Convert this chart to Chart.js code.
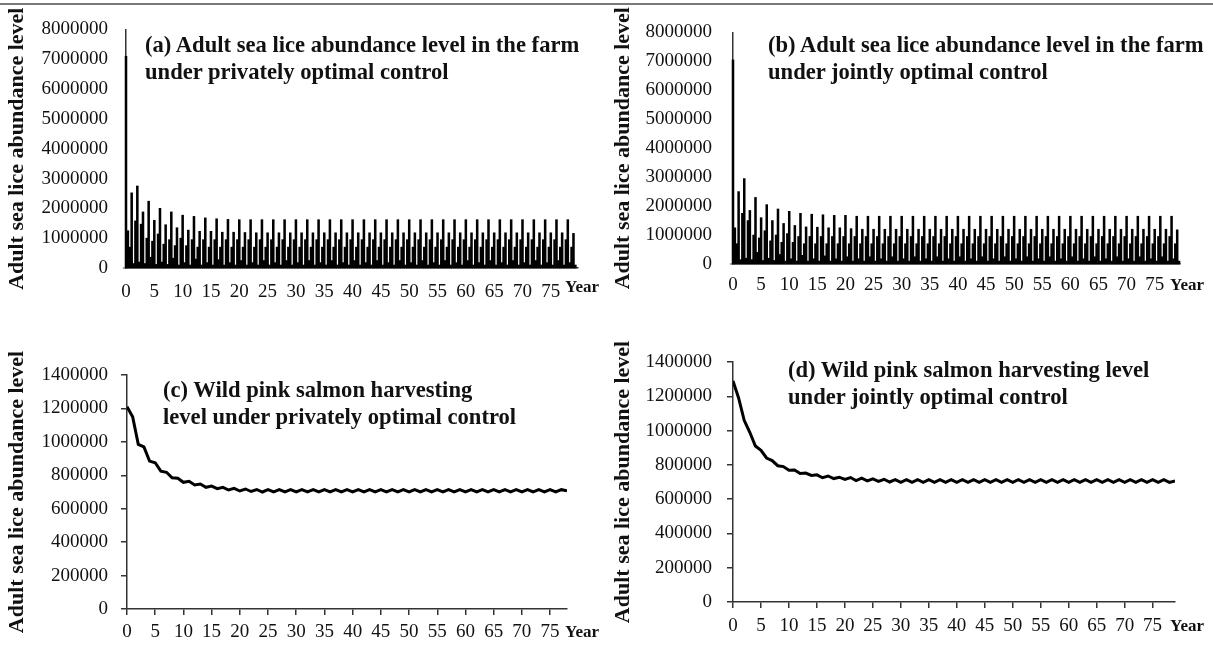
<!DOCTYPE html>
<html>
<head>
<meta charset="utf-8">
<script src="https://cdn.jsdelivr.net/npm/chart.js@4.4.0/dist/chart.umd.min.js"></script>
<style>
  body { margin: 0; background: #fff; width: 1213px; height: 648px; position: relative; overflow: hidden;
         font-family: 'Liberation Serif', 'Times New Roman', serif; }
  .rule { position: absolute; left: 0; top: 3px; width: 1213px; height: 2px; background: #7a7a7a; }
  .panel { position: absolute; }
  .caption { position: absolute; font-weight: bold; font-size: 22.6px; line-height: 27px; color: #111; white-space: nowrap; }
  .year { position: absolute; font-weight: bold; font-size: 17px; line-height: 20px; color: #111; }
</style>
</head>
<body>
<div class="rule"></div>

<canvas id="chartA" class="panel" width="600" height="310" style="left:0;top:0"></canvas>
<canvas id="chartB" class="panel" width="607" height="310" style="left:606px;top:0"></canvas>
<canvas id="chartC" class="panel" width="600" height="328" style="left:0;top:320px"></canvas>
<canvas id="chartD" class="panel" width="607" height="328" style="left:606px;top:320px"></canvas>

<div class="caption" style="left:145px;top:31px">(a) Adult sea lice abundance level in the farm<br>under privately optimal control</div>
<div class="caption" style="left:768px;top:31px">(b) Adult sea lice abundance level in the farm<br>under jointly optimal control</div>
<div class="caption" style="left:163px;top:376px">(c) Wild pink salmon harvesting<br>level under privately optimal control</div>
<div class="caption" style="left:788px;top:356px">(d) Wild pink salmon harvesting level<br>under jointly optimal control</div>

<div class="year" style="left:565px;top:277px">Year</div>
<div class="year" style="left:1170px;top:275px">Year</div>
<div class="year" style="left:565px;top:622px">Year</div>
<div class="year" style="left:1170px;top:616px">Year</div>

<script>
// years on the x axis
const years = [
  0, 1, 2, 3, 4, 5, 6, 7, 8, 9, 10, 11, 12, 13, 14, 15, 16, 17, 18, 19,
  20, 21, 22, 23, 24, 25, 26, 27, 28, 29, 30, 31, 32, 33, 34, 35, 36, 37, 38, 39,
  40, 41, 42, 43, 44, 45, 46, 47, 48, 49, 50, 51, 52, 53, 54, 55, 56, 57, 58, 59,
  60, 61, 62, 63, 64, 65, 66, 67, 68, 69, 70, 71, 72, 73, 74, 75, 76, 77, 78, 79
];

// (a) farm lice, privately optimal: yearly peak, value just before it, value just after it
const peakA = [
  7100000, 2520000, 2750000, 1880000, 2240000, 1600000, 2000000, 1450000, 1880000, 1350000,
  1770000, 1270000, 1730000, 1230000, 1680000, 1230000, 1650000, 1200000, 1630000, 1200000,
  1620000, 1190000, 1620000, 1180000, 1620000, 1180000, 1620000, 1180000, 1620000, 1180000,
  1620000, 1180000, 1620000, 1180000, 1620000, 1180000, 1620000, 1180000, 1620000, 1180000,
  1620000, 1180000, 1620000, 1180000, 1620000, 1180000, 1620000, 1180000, 1620000, 1180000,
  1620000, 1180000, 1620000, 1180000, 1620000, 1180000, 1620000, 1180000, 1620000, 1180000,
  1620000, 1180000, 1620000, 1180000, 1620000, 1180000, 1620000, 1180000, 1620000, 1180000,
  1620000, 1180000, 1620000, 1180000, 1620000, 1180000, 1620000, 1180000, 1620000, 1160000
];
const preA = [
  0, 700000, 1580000, 1470000, 1000000, 900000, 1140000, 800000, 950000, 750000,
  1000000, 750000, 950000, 700000, 950000, 700000, 950000, 700000, 950000, 700000,
  950000, 700000, 950000, 700000, 950000, 700000, 950000, 700000, 950000, 700000,
  950000, 700000, 950000, 700000, 950000, 700000, 950000, 700000, 950000, 700000,
  950000, 700000, 950000, 700000, 950000, 700000, 950000, 700000, 950000, 700000,
  950000, 700000, 950000, 700000, 950000, 700000, 950000, 700000, 950000, 700000,
  950000, 700000, 950000, 700000, 950000, 700000, 950000, 700000, 950000, 700000,
  950000, 700000, 950000, 700000, 950000, 700000, 950000, 700000, 950000, 700000
];
const postA = [
  1250000, 150000, 200000, 150000, 360000, 120000, 200000, 120000, 330000, 100000,
  180000, 100000, 300000, 100000, 180000, 100000, 280000, 100000, 180000, 100000,
  250000, 100000, 180000, 100000, 250000, 100000, 180000, 100000, 250000, 100000,
  180000, 100000, 250000, 100000, 180000, 100000, 250000, 100000, 180000, 100000,
  250000, 100000, 180000, 100000, 250000, 100000, 180000, 100000, 250000, 100000,
  180000, 100000, 250000, 100000, 180000, 100000, 250000, 100000, 180000, 100000,
  250000, 100000, 180000, 100000, 250000, 100000, 180000, 100000, 250000, 100000,
  180000, 100000, 250000, 100000, 180000, 100000, 250000, 100000, 180000, 100000
];

// (b) farm lice, jointly optimal
const peakB = [
  7050000, 2500000, 2950000, 1850000, 2300000, 1600000, 2050000, 1500000, 1900000, 1400000,
  1820000, 1330000, 1750000, 1280000, 1720000, 1270000, 1700000, 1250000, 1680000, 1250000,
  1680000, 1220000, 1650000, 1200000, 1650000, 1200000, 1650000, 1200000, 1650000, 1200000,
  1650000, 1200000, 1650000, 1200000, 1650000, 1200000, 1650000, 1200000, 1650000, 1200000,
  1650000, 1200000, 1650000, 1200000, 1650000, 1200000, 1650000, 1200000, 1650000, 1200000,
  1650000, 1200000, 1650000, 1200000, 1650000, 1200000, 1650000, 1200000, 1650000, 1200000,
  1650000, 1200000, 1650000, 1200000, 1650000, 1200000, 1650000, 1200000, 1650000, 1200000,
  1650000, 1200000, 1650000, 1200000, 1650000, 1200000, 1650000, 1200000, 1650000, 1180000
];
const preB = [
  0, 700000, 1750000, 1500000, 1000000, 900000, 1150000, 800000, 1000000, 750000,
  1050000, 750000, 950000, 700000, 950000, 700000, 950000, 700000, 950000, 700000,
  950000, 700000, 950000, 700000, 950000, 700000, 950000, 700000, 950000, 700000,
  950000, 700000, 950000, 700000, 950000, 700000, 950000, 700000, 950000, 700000,
  950000, 700000, 950000, 700000, 950000, 700000, 950000, 700000, 950000, 700000,
  950000, 700000, 950000, 700000, 950000, 700000, 950000, 700000, 950000, 700000,
  950000, 700000, 950000, 700000, 950000, 700000, 950000, 700000, 950000, 700000,
  950000, 700000, 950000, 700000, 950000, 700000, 950000, 700000, 950000, 700000
];
const postB = [
  1250000, 150000, 200000, 150000, 400000, 120000, 200000, 120000, 330000, 100000,
  180000, 100000, 300000, 100000, 180000, 100000, 280000, 100000, 180000, 100000,
  250000, 100000, 180000, 100000, 250000, 100000, 180000, 100000, 250000, 100000,
  180000, 100000, 250000, 100000, 180000, 100000, 250000, 100000, 180000, 100000,
  250000, 100000, 180000, 100000, 250000, 100000, 180000, 100000, 250000, 100000,
  180000, 100000, 250000, 100000, 180000, 100000, 250000, 100000, 180000, 100000,
  250000, 100000, 180000, 100000, 250000, 100000, 180000, 100000, 250000, 100000,
  180000, 100000, 250000, 100000, 180000, 100000, 250000, 100000, 180000, 100000
];

// (c) wild salmon harvest, privately optimal (years 0-78)
const harvestC = [
  1210000, 1150000, 985000, 970000, 885000, 875000, 825000, 818000, 785000, 782000,
  758000, 764000, 742000, 748000, 728000, 735000, 720000, 728000, 712000, 722000,
  706000, 718000, 703000, 715000, 700000, 714000, 700000, 714000, 700000, 714000,
  700000, 714000, 700000, 714000, 700000, 714000, 700000, 714000, 700000, 714000,
  700000, 714000, 700000, 714000, 700000, 714000, 700000, 714000, 700000, 714000,
  700000, 714000, 700000, 714000, 700000, 714000, 700000, 714000, 700000, 714000,
  700000, 714000, 700000, 714000, 700000, 714000, 700000, 714000, 700000, 714000,
  700000, 714000, 700000, 714000, 700000, 714000, 700000, 714000, 708000
];

// (d) wild salmon harvest, jointly optimal (years 0-79)
const harvestD = [
  1290000, 1190000, 1060000, 990000, 910000, 885000, 840000, 825000, 795000, 790000,
  768000, 770000, 750000, 752000, 738000, 742000, 725000, 735000, 720000, 728000,
  715000, 726000, 708000, 722000, 706000, 718000, 704000, 716000, 700000, 714000,
  698000, 714000, 698000, 714000, 698000, 714000, 698000, 714000, 698000, 714000,
  698000, 714000, 698000, 714000, 698000, 714000, 698000, 714000, 698000, 714000,
  698000, 714000, 698000, 714000, 698000, 714000, 698000, 714000, 698000, 714000,
  698000, 714000, 698000, 714000, 698000, 714000, 698000, 714000, 698000, 714000,
  698000, 714000, 698000, 714000, 698000, 714000, 698000, 714000, 698000, 706000
];

const serif = "'Liberation Serif', 'Times New Roman', serif";
const ink = '#111';
const axisInk = '#333';

const toPoints = values => values.map((v, i) => ({ x: years[i], y: v }));

// box: pixel layout of one panel (axis sizes, paddings) plus axis ranges
function buildScales(box) {
  const grid = { display: box.tickMarks, drawTicks: box.tickMarks, drawOnChartArea: false, offset: false, tickLength: 6, color: axisInk, lineWidth: 1.5 };
  const border = { display: true, color: axisInk, width: 1.5 };
  return {
    x: {
      type: 'linear', min: 0, max: box.xMax, offset: false, grid, border,
      ticks: { stepSize: 5, includeBounds: false, autoSkip: false, maxRotation: 0, padding: box.xPad, color: ink, font: { family: serif, size: 19 } },
      afterFit: s => { s.height = box.xHeight; }
    },
    y: {
      type: 'linear', min: 0, max: box.yMax, grid, border,
      ticks: { stepSize: box.yStep, padding: box.yPad, color: ink, font: { family: serif, size: 19 }, callback: v => String(v) },
      title: { display: true, text: 'Adult sea lice abundance level', color: ink, padding: { top: 4, bottom: 0 },
               font: { family: serif, size: 22, weight: 'bold' } },
      afterFit: s => { s.width = box.yWidth; }
    }
  };
}

function spikeChart(id, peak, pre, post, box) {
  const bar = { backgroundColor: '#000', borderWidth: 0, barPercentage: 1, categoryPercentage: 1, clip: false };
  return new Chart(document.getElementById(id), {
    type: 'bar',
    data: {
      datasets: [
        { label: 'before peak', data: toPoints(pre), ...bar },
        { label: 'peak', data: toPoints(peak), ...bar },
        { label: 'after peak', data: toPoints(post), ...bar }
      ]
    },
    options: {
      responsive: false, animation: false,
      layout: { padding: { top: box.top, right: box.right, left: 0, bottom: 0 } },
      plugins: { legend: { display: false }, tooltip: { enabled: false } },
      scales: buildScales(box)
    }
  });
}

function harvestChart(id, values, box) {
  return new Chart(document.getElementById(id), {
    type: 'line',
    data: {
      datasets: [{ label: 'harvest', data: toPoints(values), borderColor: '#000', borderWidth: 3, pointRadius: 0, tension: 0, fill: false }]
    },
    options: {
      responsive: false, animation: false,
      layout: { padding: { top: box.top, right: box.right, left: 0, bottom: 0 } },
      plugins: { legend: { display: false }, tooltip: { enabled: false } },
      scales: buildScales(box)
    }
  });
}

spikeChart('chartA', peakA, preA, postA,
  { top: 28, right: 22, yWidth: 126, xHeight: 42, xMax: 79.8, yMax: 8000000, yStep: 1000000, xPad: 13, yPad: 18, tickMarks: false });
spikeChart('chartB', peakB, preB, postB,
  { top: 21, right: 33, yWidth: 127, xHeight: 46, xMax: 79.5, yMax: 8000000, yStep: 1000000, xPad: 10, yPad: 21, tickMarks: false });
harvestChart('chartC', harvestC,
  { top: 55, right: 33, yWidth: 127, xHeight: 39, xMax: 78, yMax: 1400000, yStep: 200000, xPad: 6, yPad: 13, tickMarks: true });
harvestChart('chartD', harvestD,
  { top: 42, right: 38, yWidth: 127, xHeight: 46, xMax: 79, yMax: 1400000, yStep: 200000, xPad: 7, yPad: 15, tickMarks: true });
</script>
</body>
</html>
